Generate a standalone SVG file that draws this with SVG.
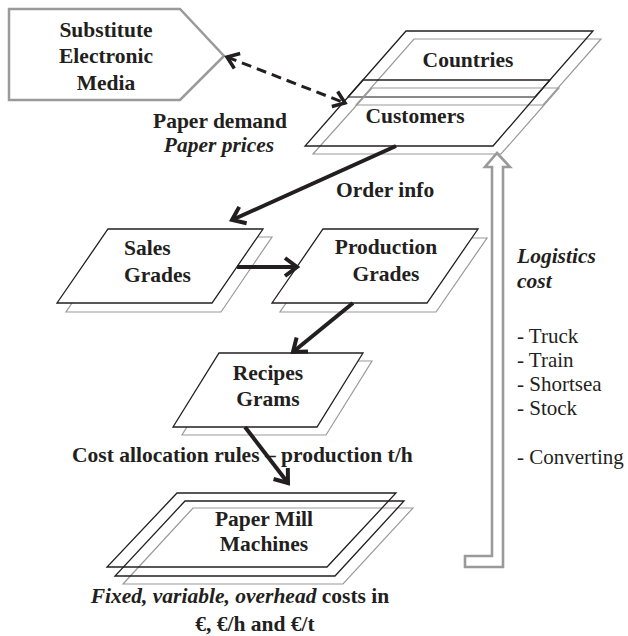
<svg xmlns="http://www.w3.org/2000/svg" width="628" height="636" viewBox="0 0 628 636">
<style>
  .t { font-family: 'Liberation Serif', 'Times New Roman', 'DejaVu Serif', serif; fill: #231f20; }
  .b { font-weight: bold; font-size: 21.5px; }
  .bi { font-weight: bold; font-style: italic; font-size: 21.5px; }
  .r { font-size: 21px; }
  .blk { fill: #fff; stroke: #231f20; stroke-width: 1.3; }
  .gry { fill: #fff; stroke: #9a9a9a; stroke-width: 1.2; }
  .blkn { fill: none; stroke: #231f20; stroke-width: 1.3; }
  .gryn { fill: none; stroke: #9a9a9a; stroke-width: 1.2; }
  .arr { stroke: #231f20; stroke-width: 4; fill: none; marker-end: url(#ah); }
  .dash { stroke: #231f20; stroke-width: 3; fill: none; stroke-dasharray: 10 6; marker-start: url(#ahs); marker-end: url(#ahs); }
</style>
<defs>
  <marker id="ah" markerUnits="userSpaceOnUse" markerWidth="20" markerHeight="24" refX="15" refY="11" orient="auto">
    <path d="M3,2 L15,11 L3,20" fill="none" stroke="#231f20" stroke-width="4"/>
  </marker>
  <marker id="ahs" markerUnits="userSpaceOnUse" markerWidth="20" markerHeight="24" refX="14" refY="10" orient="auto-start-reverse">
    <path d="M3,2 L14,10 L3,18" fill="none" stroke="#231f20" stroke-width="3.5"/>
  </marker>
</defs>
<rect width="628" height="636" fill="#fff"/>

<g font-family="Liberation Serif, Times New Roman, DejaVu Serif, serif">
<g id="substitute">
  <polygon points="9,9 180,9 224,56 180,100 9,100" fill="#fff" stroke="#9a9a9a" stroke-width="2.5"/>
  <text class="t b" x="106" y="37" text-anchor="middle">Substitute</text>
  <text class="t b" x="106" y="63" text-anchor="middle">Electronic</text>
  <text class="t b" x="106" y="90" text-anchor="middle">Media</text>
</g>

<g id="countries-customers">
  <polygon class="gryn" points="414,39 601,39 543,105 356,105"/>
  <line x1="348" y1="97" x2="535" y2="97" stroke="#8a8a8a" stroke-width="2.2"/>
  <polyline class="blkn" points="348,97 406,31 593,31 535,97"/>
  <polygon class="gryn" points="372,88 559,88 501,154 313,154"/>
  <polygon class="blkn" points="363,80 550,80 493,146 305,146"/>
  <text class="t b" x="468" y="67" text-anchor="middle">Countries</text>
  <text class="t b" x="415" y="123" text-anchor="middle">Customers</text>
</g>

<g id="demand-label">
  <text class="t b" x="220" y="128" text-anchor="middle">Paper demand</text>
  <text class="t bi" x="219" y="152" text-anchor="middle">Paper prices</text>
</g>

<g id="sales-grades">
  <polygon class="gry" points="117,237 272,237 221,312 66,312"/>
  <polygon class="blk" points="108,229 263,229 212,303 57,303"/>
  <text class="t b" x="124" y="255">Sales</text>
  <text class="t b" x="124" y="282">Grades</text>
</g>

<g id="production-grades">
  <polygon class="gry" points="331,238 487,238 436,312 280,312"/>
  <polygon class="blk" points="323,229 478,229 427,303 272,303"/>
  <text class="t b" x="386" y="254" text-anchor="middle">Production</text>
  <text class="t b" x="386" y="281" text-anchor="middle">Grades</text>
</g>

<g id="recipes">
  <polygon class="gry" points="228,361 372,361 326,435 182,435"/>
  <polygon class="blk" points="219,353 363,353 317,427 173,427"/>
  <text class="t b" x="268" y="380" text-anchor="middle">Recipes</text>
  <text class="t b" x="268" y="406" text-anchor="middle">Grams</text>
</g>

<g id="paper-mill">
  <polygon class="gryn" points="193,508 413,508 343,584 123,584"/>
  <polygon class="blkn" points="185,501 404,501 335,576 115,576" stroke-width="1.8"/>
  <polygon class="blkn" points="177,493 396,493 327,567 107,567"/>
  <text class="t b" x="264" y="526" text-anchor="middle">Paper Mill</text>
  <text class="t b" x="264" y="551" text-anchor="middle">Machines</text>
</g>

<g id="cost-labels">
  <text class="t b" x="72" y="462">Cost allocation rules – production t/h</text>
  <text class="t b" x="240" y="603" text-anchor="middle"><tspan font-style="italic">Fixed, variable, overhead</tspan> costs in</text>
  <text class="t b" x="255" y="631" text-anchor="middle">€, €/h and €/t</text>
</g>

<g id="logistics">
  <polygon points="497,153 510,167 503,167 503,567 465,567 465,556 492,556 492,167 485,167" fill="#fff" stroke="#9a9a9a" stroke-width="2.6" stroke-linejoin="miter"/>
  <text class="t bi" x="517" y="263">Logistics</text>
  <text class="t bi" x="517" y="288">cost</text>
  <text class="t r" x="517" y="343">- Truck</text>
  <text class="t r" x="517" y="367">- Train</text>
  <text class="t r" x="517" y="391">- Shortsea</text>
  <text class="t r" x="517" y="415">- Stock</text>
  <text class="t r" x="517" y="464">- Converting</text>
</g>

<g id="connectors">
  <line class="dash" x1="227" y1="57" x2="345" y2="103"/>
  <line class="arr" x1="396" y1="146" x2="232" y2="220"/>
  <text class="t b" x="336" y="197">Order info</text>
  <line class="arr" x1="237" y1="267" x2="297" y2="267"/>
  <line class="arr" x1="353" y1="303" x2="293" y2="352"/>
  <line class="arr" x1="245" y1="427" x2="288" y2="483"/>
</g>
</g>
</svg>
